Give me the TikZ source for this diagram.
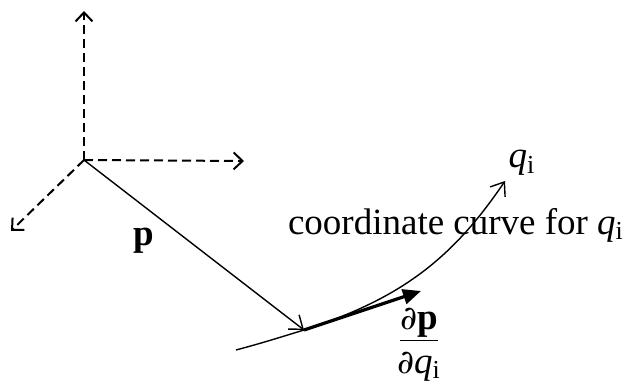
\documentclass[tikz,border=0pt]{standalone}
\usepackage{fontspec}
\setmainfont{Liberation Serif}
\newfontfamily\partfont{DejaVu Serif}
\usetikzlibrary{arrows.meta,positioning}

\newcommand{\dpart}{{\partfont\fontsize{16.5}{21}\selectfont ∂}}

\begin{document}
\begin{tikzpicture}[x=0.5pt,y=0.5pt,
    font=\fontsize{18.5}{21}\selectfont,
    axis/.style={dashed,line width=1pt,dash pattern=on 4.5pt off 2.5pt,
      -{Straight Barb[length=4.5pt,width=8.5pt,line width=1pt]}},
    thin vec/.style={line width=0.7pt,
      -{Straight Barb[length=6pt,width=9pt,line width=0.7pt]}},
    tangent/.style={line width=1.6pt,-{Triangle[length=9pt,width=7.5pt]}}]
  \useasboundingbox (0,0) rectangle (631,387);
  % frame at the origin
  \coordinate (O) at (84,227);
  \coordinate (e3) at (84,376);
  \coordinate (e1) at (244,226);
  \coordinate (e2) at (11,156);
  \draw[axis] (O) -- (e3);
  \draw[axis] (O) -- (e1);
  \draw[axis] (O) -- (e2);
  % position vector and coordinate curve
  \coordinate (P) at (304,57);
  \coordinate (cs) at (236,37);
  \coordinate (ce) at (505,206);
  \coordinate (T) at (421,96);
  \draw[thin vec] (O) -- (P);
  \draw[thin vec] (cs) to[out=15,in=197] (P) to[out=18,in=236] (ce);
  \draw[tangent] (P) -- (T);
  % labels
  \node (p) at (144,146) {\textbf{p}};
  \node (qtop) at (522,224) {\textit{q}\textsubscript{i}};
  \node[anchor=east] (curve) at (631,162) {coordinate curve for \textit{q}\textsubscript{i}};
  \node[align=center,inner sep=0pt] (dpdq) at (419,42)
    {\underline{\dpart\textbf{p}}\\[1pt]\dpart\textit{q}\textsubscript{i}};
\end{tikzpicture}
\end{document}
